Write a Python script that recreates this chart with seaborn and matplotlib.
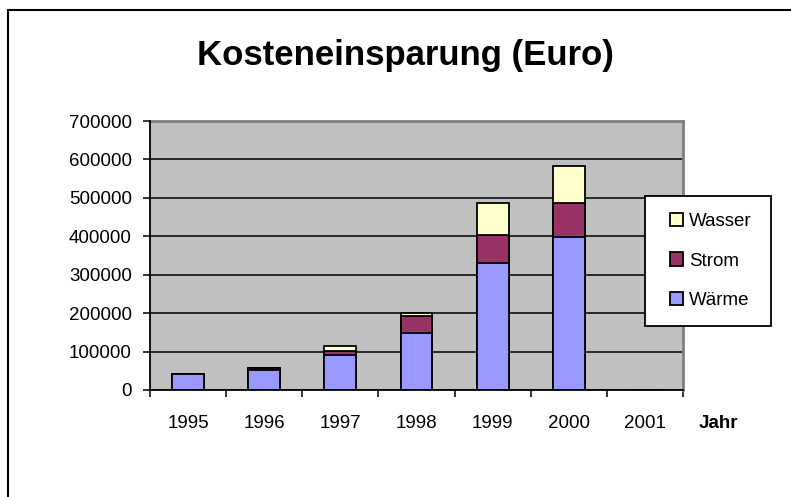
import numpy as np
import pandas as pd
import matplotlib
matplotlib.use('Agg')
import matplotlib.pyplot as plt
import seaborn as sns
from matplotlib.patches import Patch, Rectangle
from matplotlib.legend_handler import HandlerPatch
from matplotlib.ticker import FixedLocator, FuncFormatter

# values (Euro)
years = ['1995', '1996', '1997', '1998', '1999', '2000', '2001']
waerme = [42000, 52000, 92000, 149000, 331000, 399000, 0]
strom = [0, 4000, 9000, 43000, 72000, 88000, 0]
wasser = [0, 1000, 13000, 9000, 84000, 96000, 0]

colors = {'Wärme': '#9999FF', 'Strom': '#993366', 'Wasser': '#FFFFCC'}

sns.set_style('white')
plt.rcParams['font.family'] = ['Liberation Sans', 'DejaVu Sans']
plt.rcParams['text.color'] = 'black'
plt.rcParams['xtick.color'] = 'black'
plt.rcParams['ytick.color'] = 'black'
plt.rcParams['axes.labelcolor'] = 'black'

df = pd.DataFrame({'Jahr': years, 'Wärme': waerme, 'Strom': strom, 'Wasser': wasser})
df['s_waerme'] = df['Wärme']
df['s_strom'] = df['s_waerme'] + df['Strom']
df['s_wasser'] = df['s_strom'] + df['Wasser']

fig = plt.figure(figsize=(7.91, 4.97), dpi=100)
ax = fig.add_axes([150 / 791, 1 - 390 / 497, 533 / 791, 269 / 497])
ax.set_facecolor('#C0C0C0')

# stacked bars: draw cumulative totals from the top series down
for col, name in [('s_wasser', 'Wasser'), ('s_strom', 'Strom'), ('s_waerme', 'Wärme')]:
    sns.barplot(data=df, x='Jahr', y=col, order=years, color=colors[name],
                saturation=1, width=0.42, edgecolor='black', linewidth=1.3,
                ax=ax, zorder=3)

ax.set_ylim(0, 700000)
ax.set_xlim(-0.5, len(years) - 0.5)
ax.set_yticks(np.arange(0, 700001, 100000))
ax.yaxis.set_major_formatter(FuncFormatter(lambda v, p: f'{int(v)}'))
ax.grid(axis='y', color='black', linewidth=1.1, zorder=1)
ax.set_axisbelow(True)
ax.set_xlabel('')
ax.set_ylabel('')

for s in ['top', 'right']:
    ax.spines[s].set_color('#808080')
    ax.spines[s].set_linewidth(2)
for s in ['left', 'bottom']:
    ax.spines[s].set_color('black')
    ax.spines[s].set_linewidth(1.3)
    ax.spines[s].set_zorder(5)

ax.tick_params(axis='y', direction='out', length=5, width=1.1, color='black',
               left=True, pad=8, labelsize=13.5)
ax.tick_params(axis='x', which='major', length=0, pad=18, labelsize=13.5)
ax.xaxis.set_minor_locator(FixedLocator(np.arange(-0.5, len(years), 1.0)))
ax.tick_params(axis='x', which='minor', direction='out', length=5, width=1.1,
               color='black', bottom=True)

fig.text(718 / 791, 1 - 423 / 497, 'Jahr', fontsize=13.5, fontweight='bold',
         ha='center', va='center')
fig.text(405 / 791, 1 - 55 / 497, 'Kosteneinsparung (Euro)', fontsize=25,
         fontweight='bold', ha='center', va='center')


# small square handle pushed to the right end of the handle area
def square(legend, orig_handle, xdescent, ydescent, width, height, fontsize):
    side = height
    return Rectangle((-xdescent + width - side, -ydescent), side, side)


handles = [Patch(facecolor=colors[n], edgecolor='black', linewidth=1.3, label=n)
           for n in ['Wasser', 'Strom', 'Wärme']]
leg = fig.legend(handles=handles, loc='upper left',
                 bbox_to_anchor=(645 / 791, 1 - 196 / 497, 126 / 791, 0),
                 mode='expand', fontsize=13.5,
                 handler_map={Patch: HandlerPatch(patch_func=square)},
                 frameon=True, fancybox=False, edgecolor='black', framealpha=1,
                 handlelength=1.15, handleheight=0.7, handletextpad=0.3,
                 labelspacing=1.2, borderpad=0.9, borderaxespad=0)
leg.get_frame().set_linewidth(1.3)

fig.add_artist(Rectangle((8 / 791, -0.1), 1.2, 1 - 10 / 497 + 0.1,
                         transform=fig.transFigure, fill=False,
                         edgecolor='black', linewidth=1.5))

fig.savefig('out.png', dpi=100)
